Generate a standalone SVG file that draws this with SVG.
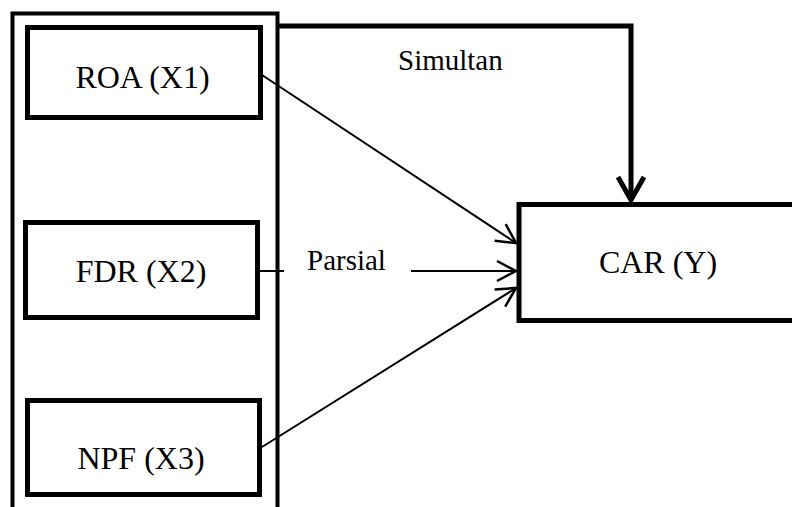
<svg xmlns="http://www.w3.org/2000/svg" width="792" height="507" viewBox="0 0 792 507">
<style>
.box{fill:#fff;stroke:#000;stroke-width:5}
.outer{fill:none;stroke:#000;stroke-width:4}
.lbl{font-family:"Liberation Serif","Times New Roman",serif;font-size:32px;fill:#000;text-anchor:middle}
.cap{font-family:"Liberation Serif","Times New Roman",serif;font-size:29px;fill:#000}
.thin{fill:none;stroke:#000;stroke-width:2}
.thick{fill:none;stroke:#000;stroke-width:5}
</style>
<defs>
<marker id="ah" markerUnits="userSpaceOnUse" markerWidth="30" markerHeight="30" viewBox="-25 -15 30 30" refX="0" refY="0" orient="auto">
<path d="M -19 -10 L 0 0 L -19 10" fill="none" stroke="#000" stroke-width="2.5"/>
</marker>
</defs>
<g id="group-x">
<rect class="outer" x="12.5" y="13.5" width="265" height="520"/>
</g>
<g id="roa">
<rect class="box" x="27.5" y="27.5" width="233" height="90"/>
<text class="lbl" x="142.5" y="88">ROA (X1)</text>
</g>
<g id="fdr">
<rect class="box" x="25.5" y="222.5" width="232" height="95"/>
<text class="lbl" x="141" y="282">FDR (X2)</text>
</g>
<g id="npf">
<rect class="box" x="27.5" y="400.5" width="232" height="94"/>
<text class="lbl" x="141" y="469">NPF (X3)</text>
</g>
<g id="car">
<rect class="box" x="519" y="204.5" width="300" height="116"/>
<text class="lbl" x="658" y="273">CAR (Y)</text>
</g>
<g id="connectors">
<path class="thick" d="M 278 26 H 631 V 200"/>
<polyline class="thick" points="618,177 631,200 644,177"/>
<line class="thin" x1="262" y1="75" x2="516" y2="243" marker-end="url(#ah)"/>
<line class="thin" x1="258" y1="271" x2="284" y2="271"/>
<line class="thin" x1="411" y1="271" x2="516" y2="271" marker-end="url(#ah)"/>
<line class="thin" x1="262" y1="447" x2="516" y2="288" marker-end="url(#ah)"/>
</g>
<text class="cap" x="398" y="70">Simultan</text>
<text class="cap" x="307" y="270">Parsial</text>
</svg>
